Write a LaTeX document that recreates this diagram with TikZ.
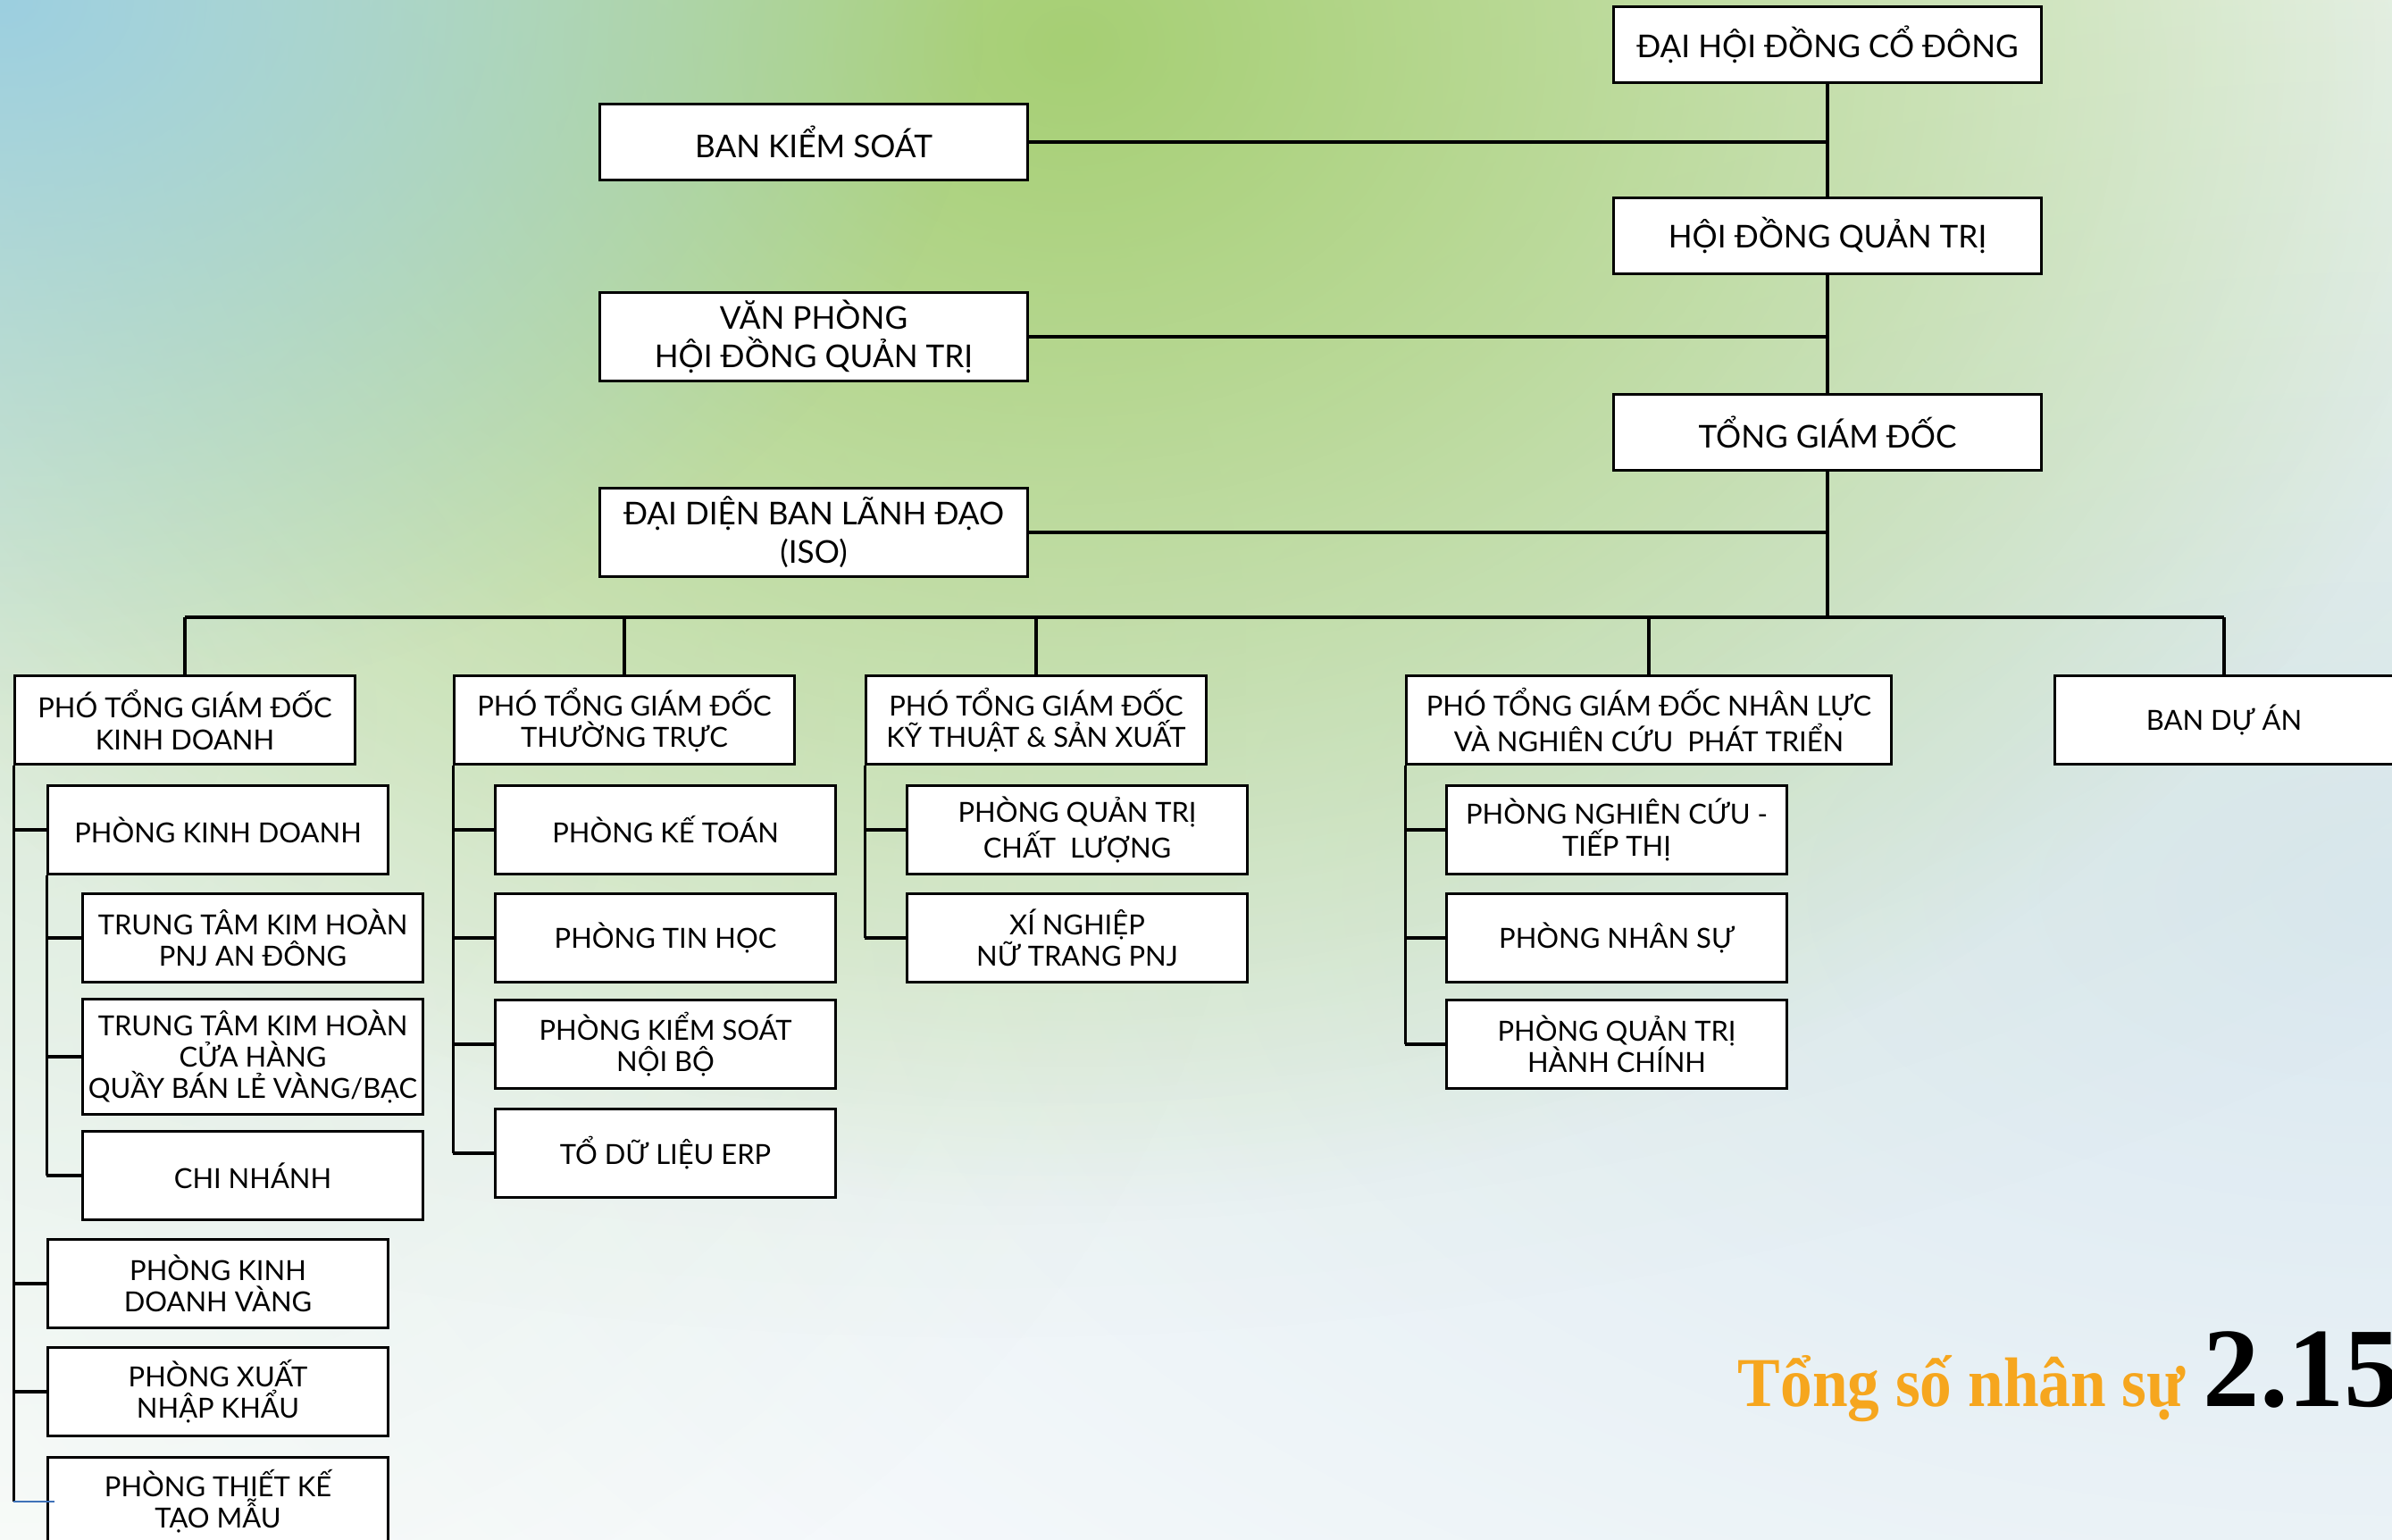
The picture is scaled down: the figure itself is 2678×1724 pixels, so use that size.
\documentclass[tikz,border=0pt]{standalone}
\usepackage{fontspec}
\usetikzlibrary{fadings}

\newfontfamily\boxfont{Lato}
\newfontfamily\totalfont[FakeStretch=0.91]{Liberation Serif}
\newfontfamily\countfont{Liberation Serif}

\definecolor{leafgreen}{HTML}{A6CF74}
\definecolor{skyblue}{HTML}{9CCFE0}
\definecolor{mistblue}{HTML}{DAE8F0}
\definecolor{palegreen}{HTML}{E2EFE6}
\definecolor{totalorange}{HTML}{F6A61E}
\definecolor{tickblue}{HTML}{3F72B8}

\tikzfading[name=glow, inner color=transparent!0, outer color=transparent!100]

\tikzset{
  topbox/.style={draw, fill=white, line width=0.85pt, inner sep=0pt, align=center,
    minimum width=4.78cm, minimum height=0.84cm,
    font={\boxfont\fontsize{10}{12.2}\selectfont}},
  vpbox/.style={topbox, minimum width=3.8cm, minimum height=0.98cm,
    font={\boxfont\fontsize{8.8}{10}\selectfont}},
  deptbox/.style={vpbox},
  link/.style={line width=1pt}
}

\begin{document}
\begin{tikzpicture}[x=0.01cm, y=-0.01cm]

\path[use as bounding box] (0,0) rectangle (2678,1724);

% Background
\begin{scope}
\clip (0,0) rectangle (2678,1724);
\fill[white] (0,0) rectangle (2678,1724);
\fill[mistblue, path fading=glow] (-322,-600) rectangle (5678,2600);
\fill[palegreen, path fading=glow] (-1400,-400) rectangle (1400,2000);
\fill[leafgreen, opacity=0.3, path fading=glow] (-1300,-1300) rectangle (3500,1500);
\fill[leafgreen, path fading=glow] (-400,-1250) rectangle (2800,1350);
\fill[skyblue, path fading=glow] (-1100,-800) rectangle (1100,800);
\end{scope}

% Governance column
\node[topbox] (dhdcd) at (2046,50) {ĐẠI HỘI ĐỒNG CỔ ĐÔNG};
\node[topbox] (hdqt) at (2046,264) {HỘI ĐỒNG QUẢN TRỊ};
\node[topbox] (tgd) at (2046,484) {TỔNG GIÁM ĐỐC};
\coordinate (bus) at (2046,691);

% Boards on the left
\node[topbox] (bks) at (911,159) {BAN KIỂM SOÁT};
\node[topbox, minimum height=0.99cm] (vphd) at (911,377) {VĂN PHÒNG\\HỘI ĐỒNG QUẢN TRỊ};
\node[topbox, minimum height=0.99cm] (iso) at (911,596) {ĐẠI DIỆN BAN LÃNH ĐẠO\\(ISO)};

% Deputy directors
\node[vpbox] (ptkd) at (207,806) {PHÓ TỔNG GIÁM ĐỐC\\KINH DOANH};
\node[vpbox] (pttt) at (699,806) {PHÓ TỔNG GIÁM ĐỐC\\THƯỜNG TRỰC};
\node[vpbox] (ptkt) at (1160,806) {PHÓ TỔNG GIÁM ĐỐC\\KỸ THUẬT \& SẢN XUẤT};
\node[vpbox, minimum width=5.42cm] (ptnl) at (1846,806) {PHÓ TỔNG GIÁM ĐỐC NHÂN LỰC\\VÀ NGHIÊN CỨU\ \ PHÁT TRIỂN};
\node[vpbox, minimum width=3.78cm] (bda) at (2490,806) {BAN DỰ ÁN};

% Kinh doanh
\node[deptbox] (pkd) at (244,929) {PHÒNG KINH DOANH};
\node[deptbox] (ttad) at (283,1050) {TRUNG TÂM KIM HOÀN\\PNJ AN ĐÔNG};
\node[deptbox, minimum height=1.28cm] (ttch) at (283,1183) {TRUNG TÂM KIM HOÀN\\CỬA HÀNG\\QUẦY BÁN LẺ VÀNG/BẠC};
\node[deptbox] (cn) at (283,1316) {CHI NHÁNH};
\node[deptbox] (pkdv) at (244,1437) {PHÒNG KINH\\DOANH VÀNG};
\node[deptbox] (pxnk) at (244,1558) {PHÒNG XUẤT\\NHẬP KHẨU};
\node[deptbox] (ptktm) at (244,1681) {PHÒNG THIẾT KẾ\\TẠO MẪU};

% Thuong truc
\node[deptbox] (pkt) at (745,929) {PHÒNG KẾ TOÁN};
\node[deptbox] (pth) at (745,1050) {PHÒNG TIN HỌC};
\node[deptbox] (pks) at (745,1169) {PHÒNG KIỂM SOÁT\\NỘI BỘ};
\node[deptbox] (erp) at (745,1291) {TỔ DỮ LIỆU ERP};

% Ky thuat
\node[deptbox] (pqtcl) at (1206,929) {PHÒNG QUẢN TRỊ\\CHẤT\ \ LƯỢNG};
\node[deptbox] (xnnt) at (1206,1050) {XÍ NGHIỆP\\NỮ TRANG PNJ};

% Nhan luc
\node[deptbox] (pnc) at (1810,929) {PHÒNG NGHIÊN CỨU -\\TIẾP THỊ};
\node[deptbox] (pns) at (1810,1050) {PHÒNG NHÂN SỰ};
\node[deptbox] (pqthc) at (1810,1169) {PHÒNG QUẢN TRỊ\\HÀNH CHÍNH};

% Connectors
\begin{scope}[link]
\draw (dhdcd) -- (hdqt);
\draw (hdqt) -- (tgd);
\draw (tgd) -- (bus);
\draw (bks.east) -- (bks.east -| dhdcd.south);
\draw (vphd.east) -- (vphd.east -| dhdcd.south);
\draw (iso.east) -- (iso.east -| dhdcd.south);
\draw (ptkd.north |- bus) -- (bda.north |- bus);
\foreach \n in {ptkd, pttt, ptkt, ptnl, bda}
  \draw (\n.north) -- (\n.north |- bus);

\draw (ptkd.south west) -- (ptkd.south west |- ptktm.west);
\foreach \d in {pkd, pkdv, pxnk}
  \draw (\d.west -| ptkd.south west) -- (\d.west);
\draw (pkd.south west) -- (pkd.south west |- cn.west);
\foreach \d in {ttad, ttch, cn}
  \draw (\d.west -| pkd.south west) -- (\d.west);

\draw (pttt.south west) -- (pttt.south west |- erp.west);
\foreach \d in {pkt, pth, pks, erp}
  \draw (\d.west -| pttt.south west) -- (\d.west);

\draw (ptkt.south west) -- (ptkt.south west |- xnnt.west);
\foreach \d in {pqtcl, xnnt}
  \draw (\d.west -| ptkt.south west) -- (\d.west);

\draw (ptnl.south west) -- (ptnl.south west |- pqthc.west);
\foreach \d in {pnc, pns, pqthc}
  \draw (\d.west -| ptnl.south west) -- (\d.west);
\end{scope}
\draw[tickblue, line width=0.8pt] (ptktm.west -| ptkd.south west) -- ([xshift=0.09cm]ptktm.west);

% Headcount
\node[anchor=base west, inner sep=0pt, text=totalorange,
  font={\totalfont\bfseries\fontsize{22.3}{24}\selectfont}] (total) at (1945,1574) {Tổng số nhân sự};
\node[anchor=base west, inner sep=0pt,
  font={\countfont\bfseries\fontsize{36}{40}\selectfont}] (count) at (2466,1574) {2.15};

\end{tikzpicture}
\end{document}
